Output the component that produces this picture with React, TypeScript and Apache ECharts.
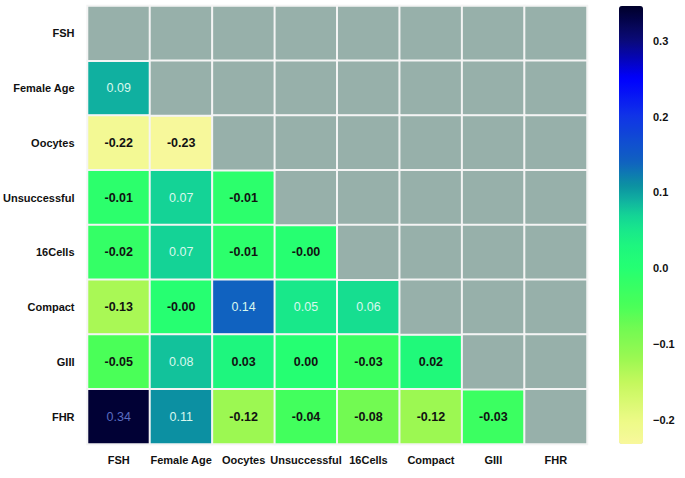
import React, { useEffect, useRef } from "react";
import * as echarts from "echarts";

const labels = ["FSH", "Female Age", "Oocytes", "Unsuccessful", "16Cells", "Compact", "GIII", "FHR"];

// lower-triangle correlation rows (row i has i values, columns 0..i-1)
const rowFemaleAge = [0.09];
const rowOocytes = [-0.22, -0.23];
const rowUnsuccessful = [-0.01, 0.07, -0.01];
const row16Cells = [-0.02, 0.07, -0.01, -0.002];
const rowCompact = [-0.13, -0.002, 0.14, 0.05, 0.06];
const rowGIII = [-0.05, 0.08, 0.03, 0.0, -0.03, 0.02];
const rowFHR = [0.34, 0.11, -0.12, -0.04, -0.08, -0.12, -0.03];
const rows = [[], rowFemaleAge, rowOocytes, rowUnsuccessful, row16Cells, rowCompact, rowGIII, rowFHR];

const colorbarTicks = [-0.2, -0.1, 0.0, 0.1, 0.2, 0.3];
const vmin = -0.232;
const vmax = 0.346;

const stops: [number, string][] = [
  [-0.232, "#f8f89c"],
  [-0.2, "#ecfa86"],
  [-0.15, "#c4f85c"],
  [-0.12, "#9cf852"],
  [-0.08, "#72fa52"],
  [-0.05, "#4aff58"],
  [-0.02, "#34ff66"],
  [0.0, "#24ff72"],
  [0.03, "#1ef67e"],
  [0.05, "#18e88a"],
  [0.07, "#14d496"],
  [0.09, "#10b0a0"],
  [0.11, "#0c90a2"],
  [0.14, "#1062c0"],
  [0.2, "#1034e6"],
  [0.25, "#0000ff"],
  [0.3, "#0a0a7a"],
  [0.346, "#00002a"],
];

function hexToRgb(h: string) {
  return [parseInt(h.slice(1, 3), 16), parseInt(h.slice(3, 5), 16), parseInt(h.slice(5, 7), 16)];
}
function colorAt(v: number) {
  for (let i = 0; i < stops.length - 1; i++) {
    const [a, ca] = stops[i];
    const [b, cb] = stops[i + 1];
    if (v >= a && v <= b) {
      const t = (v - a) / (b - a);
      const A = hexToRgb(ca), B = hexToRgb(cb);
      const c = A.map((x, k) => Math.round(x + (B[k] - x) * t));
      return `rgb(${c[0]},${c[1]},${c[2]})`;
    }
  }
  return v < vmin ? stops[0][1] : stops[stops.length - 1][1];
}
const N = 116;
const palette: string[] = [];
for (let i = 0; i < N; i++) palette.push(colorAt(vmin + ((vmax - vmin) * i) / (N - 1)));

export default function App() {
  const ref = useRef<HTMLDivElement>(null);
  useEffect(() => {
    if (!ref.current) return;
    const chart = echarts.init(ref.current, null, { renderer: "svg" });
    const cells: any[] = [];
    const grays: any[] = [];
    for (let i = 0; i < labels.length; i++) {
      for (let j = 0; j < labels.length; j++) {
        if (j < i) {
          const v = rows[i][j];
          const light = v >= 0.045;
          cells.push({
            value: [j, i, v],
            label: {
              color: v > 0.3 ? "#5a6cc0" : light ? "#d8f8ee" : "#111111",
              fontWeight: light ? "normal" : "bold",
            },
          });
        } else {
          grays.push([j, i, 0]);
        }
      }
    }
    const gridL = 87, gridT = 6, gridW = 500, gridH = 438;
    chart.setOption({
      animation: false,
      backgroundColor: "#ffffff",
      textStyle: { fontFamily: "Liberation Sans, Arial, sans-serif" },
      grid: [
        { left: gridL, top: gridT, width: gridW, height: gridH },
        { left: 619, top: gridT, width: 24, height: gridH },
      ],
      xAxis: [
        {
          type: "category",
          data: labels,
          gridIndex: 0,
          axisLine: { show: false },
          axisTick: { show: false },
          splitArea: { show: false },
          axisLabel: { fontSize: 11, fontWeight: "bold", color: "#111", margin: 10, interval: 0 },
        },
        { type: "value", gridIndex: 1, show: false, min: 0, max: 1 },
      ],
      yAxis: [
        {
          type: "category",
          data: labels,
          inverse: true,
          gridIndex: 0,
          axisLine: { show: false },
          axisTick: { show: false },
          axisLabel: { fontSize: 11, fontWeight: "bold", color: "#111", margin: 13, interval: 0 },
        },
        {
          type: "value",
          gridIndex: 1,
          min: vmin,
          max: vmax,
          position: "right",
          axisLine: { show: false },
          splitLine: { show: false },
          axisTick: {
            show: true,
            length: 6,
            customValues: colorbarTicks,
            lineStyle: { color: "#111", width: 1.2 },
          },
          axisLabel: {
            customValues: colorbarTicks,
            fontSize: 11,
            fontWeight: "bold",
            color: "#111",
            margin: 10,
            formatter: (v: number) => (v < 0 ? "\u2212" + Math.abs(v).toFixed(1) : v.toFixed(1)),
          },
        },
      ],
      visualMap: [
        {
          type: "continuous",
          min: vmin,
          max: vmax,
          seriesIndex: 0,
          calculable: false,
          orient: "vertical",
          left: 619,
          top: gridT,
          itemWidth: 24,
          itemHeight: gridH,
          padding: 0,
          showLabel: false,
          inRange: { color: palette },
        },
        {
          type: "continuous",
          show: false,
          min: 0,
          max: 1,
          seriesIndex: 1,
          inRange: { color: ["#97b0aa", "#97b0aa"] },
        },
      ],
      series: [
        {
          type: "heatmap",
          xAxisIndex: 0,
          yAxisIndex: 0,
          data: cells,
          itemStyle: { borderColor: "#f4f4f4", borderWidth: 2 },
          label: {
            show: true,
            fontSize: 12.5,
            formatter: (p: any) => (p.value[2] as number).toFixed(2),
          },
        },
        {
          type: "heatmap",
          xAxisIndex: 0,
          yAxisIndex: 0,
          data: grays,
          itemStyle: { borderColor: "#f4f4f4", borderWidth: 2 },
          label: { show: false },
        },
      ],
      graphic: [
        {
          type: "rect",
          left: 576,
          top: 12,
          shape: { width: 7, height: 5 },
          style: { fill: "#b8c8d6", stroke: "#a8b8c8", lineWidth: 0.5 },
        },
      ],
    });
    return () => chart.dispose();
  }, []);
  return (
    <div
      ref={ref}
      style={{ position: "fixed", left: 0, top: 0, width: 685, height: 478 }}
    />
  );
}
